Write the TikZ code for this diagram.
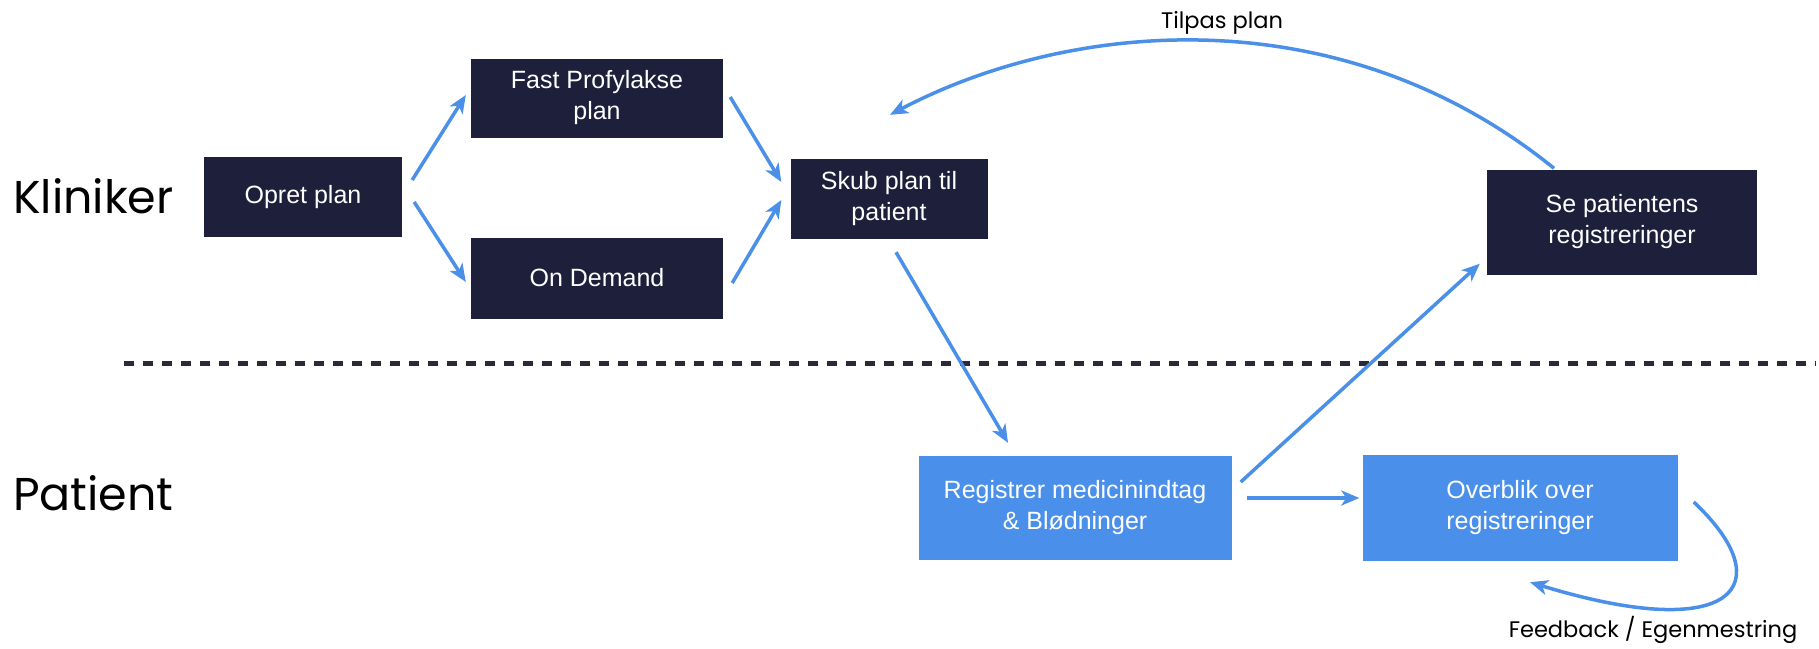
\documentclass[tikz,border=0pt]{standalone}
\usepackage{fontspec}
\setmainfont{Liberation Sans}
\newfontfamily\geo{Poppins}
\usetikzlibrary{arrows.meta,calc}
\definecolor{navy}{HTML}{1E1F3B}
\definecolor{bluebox}{HTML}{4A8FEA}
\definecolor{bluearr}{HTML}{4A8FE8}
\definecolor{dashc}{HTML}{2A2B3A}
\tikzset{
  darkbox/.style={fill=navy, text=white, inner sep=0pt, align=center, font=\fontsize{25}{31}\selectfont},
  bluebx/.style={fill=bluebox, text=white, inner sep=0pt, align=center, font=\fontsize{25}{31}\selectfont},
  flow/.style={draw=bluearr, line width=3.5pt, -{Stealth[length=18pt,width=15pt,inset=5pt]}},
  lane/.style={font=\geo\fontsize{46}{52}\selectfont, anchor=base west, inner sep=0pt},
  note/.style={font=\geo\fontsize{22.5}{26}\selectfont, inner sep=0pt}
}
\begin{document}
\begin{tikzpicture}[x=1pt,y=-1pt]
\useasboundingbox (0,0) rectangle (1819,648);
% lane labels
\node[lane] (kl) at (13,213) {Kliniker};
\node[lane] (pa) at (13,510) {Patient};
% separator
\coordinate (dl) at (124,363);
\coordinate (dr) at (1816,363);
\draw[dashc, line width=5pt, dash pattern=on 10pt off 9pt] (dl) -- (dr);
% boxes
\node[darkbox, minimum width=198pt, minimum height=80pt] (opret) at (303,197) {Opret plan};
\node[darkbox, minimum width=252pt, minimum height=79pt] (fast) at (597,98) {Fast Profylakse\\plan};
\node[darkbox, minimum width=252pt, minimum height=81pt] (ond) at (597,278) {On Demand};
\node[darkbox, minimum width=197pt, minimum height=80pt] (skub) at (889,199) {Skub plan til\\patient};
\node[darkbox, minimum width=270pt, minimum height=105pt] (se) at (1622,222) {Se patientens\\registreringer};
\node[bluebx, minimum width=313pt, minimum height=104pt] (reg) at (1075,508) {Registrer medicinindtag\\\& Blødninger};
\node[bluebx, minimum width=315pt, minimum height=106pt] (ovb) at (1520,508) {Overblik over\\registreringer};
% labels
\node[note] (tp) at (1222,23) {Tilpas plan};
\node[note] (fb) at (1653,630) {Feedback / Egenmestring};
% connectors
\draw[flow] ($(opret.east)+(10,-17)$) -- ($(fast.west)+(-5,-3)$);
\draw[flow] ($(opret.east)+(12,5)$) -- ($(ond.west)+(-5,4)$);
\draw[flow] ($(fast.east)+(7,-1)$) -- ($(skub.west)+(-9,-17)$);
\draw[flow] ($(ond.east)+(9,5)$) -- ($(skub.west)+(-9,1)$);
\draw[flow] ($(skub.south)+(7,13)$) -- ($(reg.north)+(-67,-13)$);
\draw[flow] ($(reg.east)+(15,-10)$) -- ($(ovb.west)+(-3,-10)$);
\draw[flow] ($(reg.east)+(9,-26)$) -- ($(se.south west)+(-7,-11)$);
\draw[flow] ($(se.north)+(-68,-1)$) .. controls (1340,-5) and (1070,20) .. ($(skub.north)+(1,-44)$);
\draw[flow] ($(ovb.east)+(16,-6)$) .. controls (1782,585) and (1735,645) .. ($(ovb.south)+(10,21)$);
\end{tikzpicture}
\end{document}
